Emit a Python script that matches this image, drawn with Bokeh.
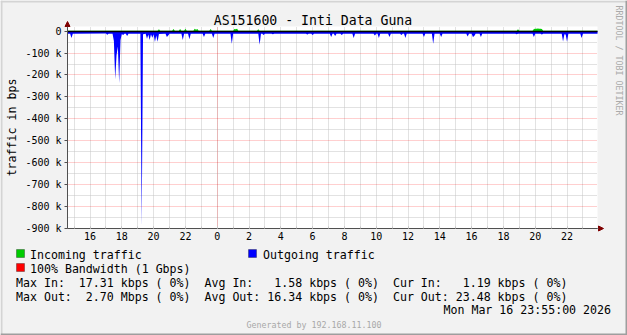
import math
import re
from bokeh.plotting import figure
from bokeh.models import (Range1d, FixedTicker, Grid, Label, Arrow, NormalHead,
                          BoxAnnotation)
from bokeh.embed import file_html
from bokeh.resources import INLINE

FONT = "DejaVu Sans Mono"

# ---------------- data ----------------
title_text = "AS151600 - Inti Data Guna"
y_axis_label = "traffic in bps"
side_text = "RRDTOOL / TOBI OETIKER"
footer_text = "Generated by 192.168.11.100"
date_text = "Mon Mar 16 23:55:00 2026"

x_tick_hours = [16, 18, 20, 22, 24, 26, 28, 30, 32, 34, 36, 38, 40, 42, 44, 46]
x_tick_labels = ["16", "18", "20", "22", "0", "2", "4", "6", "8", "10", "12",
                 "14", "16", "18", "20", "22"]
hour_grid = list(range(15, 48))
day_grid = [24]

y_ticks = [0, -100000, -200000, -300000, -400000, -500000, -600000, -700000,
           -800000, -900000]
y_tick_labels = ["0", "-100 k", "-200 k", "-300 k", "-400 k", "-500 k",
                 "-600 k", "-700 k", "-800 k", "-900 k"]
y_minor_grid = [-50000, -150000, -250000, -350000, -450000, -550000,
                -650000, -750000, -850000]

# outgoing traffic (drawn negative), bps
out_time = [
    "15 14:35", "15 14:45", "15 14:50", "15 14:55",
    "15 17:00", "15 17:05", "15 17:10",
    "15 17:25", "15 17:30", "15 17:35", "15 17:40", "15 17:45", "15 17:50",
    "15 17:55", "15 18:00", "15 18:05", "15 18:10",
    "15 18:15", "15 18:20", "15 18:25",
    "15 19:10", "15 19:15", "15 19:20",
    "15 19:30", "15 19:35", "15 19:40", "15 19:45", "15 19:50", "15 19:55",
    "15 20:00", "15 20:05", "15 20:10", "15 20:15", "15 20:20",
    "15 20:45", "15 20:50", "15 20:55", "15 21:00",
    "15 21:45", "15 21:50", "15 21:55",
    "15 22:10", "15 22:15", "15 22:20",
    "15 23:05", "15 23:10", "15 23:15",
    "15 23:40", "15 23:45", "15 23:50",
    "16 00:50", "16 00:55", "16 01:00",
    "16 02:35", "16 02:40", "16 02:45", "16 02:50", "16 02:55", "16 03:00",
    "16 03:25", "16 03:30", "16 03:35",
    "16 05:35", "16 05:40", "16 05:45", "16 05:55", "16 06:00", "16 06:05",
    "16 07:05", "16 07:10", "16 07:15", "16 07:20", "16 07:25", "16 07:30",
    "16 07:45", "16 07:50", "16 07:55",
    "16 08:30", "16 08:35", "16 08:40",
    "16 09:50", "16 09:55", "16 10:00", "16 10:05", "16 10:10", "16 10:15",
    "16 10:45", "16 10:50", "16 10:55",
    "16 11:30", "16 11:35", "16 11:40", "16 11:45", "16 11:50", "16 11:55",
    "16 12:55", "16 13:00", "16 13:05",
    "16 13:30", "16 13:35", "16 13:40",
    "16 14:00", "16 14:05", "16 14:10",
    "16 15:40", "16 15:45", "16 15:50",
    "16 16:00", "16 16:05", "16 16:10", "16 16:15",
    "16 16:30", "16 16:35", "16 16:40",
    "16 18:45", "16 18:50", "16 18:55",
    "16 19:50", "16 19:55", "16 20:00",
    "16 20:20", "16 20:25", "16 20:30",
    "16 21:40", "16 21:45", "16 21:50", "16 21:55", "16 22:00", "16 22:05",
    "16 22:50", "16 22:55", "16 23:00",
    "16 23:55",
]
out_bps = [
    -12000, -12000, -32000, -12000,
    -11000, -17000, -12000,
    -12000, -45000, -219000, -110000, -70000, -237000,
    -40000, -13000, -18000, -12000,
    -12000, -22000, -12000,
    -12000, -890000, -14000,
    -12000, -35000, -15000, -40000, -14000, -30000,
    -14000, -50000, -20000, -48000, -13000,
    -12000, -27000, -20000, -12000,
    -12000, -41000, -12000,
    -12000, -37000, -12000,
    -12000, -27000, -12000,
    -12000, -32000, -12000,
    -12000, -58000, -12000,
    -12000, -62000, -12000, -12000, -18000, -12000,
    -12000, -14000, -12000,
    -12000, -15000, -12000, -12000, -18000, -12000,
    -12000, -27000, -12000, -12000, -22000, -12000,
    -12000, -18000, -12000,
    -12000, -32000, -12000,
    -12000, -20000, -12000, -12000, -32000, -12000,
    -12000, -27000, -12000,
    -12000, -18000, -12000, -12000, -32000, -12000,
    -12000, -27000, -12000,
    -12000, -58000, -12000,
    -12000, -27000, -12000,
    -12000, -25000, -12000,
    -12000, -27000, -22000, -12000,
    -12000, -27000, -12000,
    -12000, -14000, -12000,
    -12000, -27000, -12000,
    -12000, -15000, -12000,
    -12000, -47000, -14000, -15000, -49000, -12000,
    -12000, -32000, -12000,
    -12000,
]

# incoming traffic, bps
in_time = [
    "15 14:35",
    "15 20:15", "15 20:20", "15 20:25",
    "15 21:10", "15 21:15", "15 21:20",
    "15 21:35", "15 21:40", "15 21:45",
    "15 21:55", "15 22:00", "15 22:05",
    "15 22:30", "15 22:35", "15 22:40", "15 22:45", "15 22:50",
    "15 23:30", "15 23:35", "15 23:40",
    "16 01:00", "16 01:05", "16 01:10", "16 01:15", "16 01:20",
    "16 02:30", "16 02:35", "16 02:40",
    "16 18:50", "16 18:55", "16 19:00",
    "16 19:50", "16 19:55", "16 20:00", "16 20:05", "16 20:10", "16 20:15",
    "16 20:20", "16 20:25", "16 20:30",
    "16 23:55",
]
in_bps = [
    1500,
    1500, 9000, 1500,
    1500, 10000, 1500,
    1500, 10000, 1500,
    1500, 11000, 1500,
    1500, 11000, 6000, 10000, 1500,
    1500, 10000, 1500,
    1500, 10000, 8000, 11000, 1500,
    1500, 8000, 1500,
    1500, 9000, 1500,
    1500, 10000, 11000, 11000, 12000, 11000,
    11000, 10000, 1500,
    1200,
]

legend_rows = [
    "Max In:  17.31 kbps ( 0%)  Avg In:   1.58 kbps ( 0%)  Cur In:   1.19 kbps ( 0%)",
    "Max Out:  2.70 Mbps ( 0%)  Avg Out: 16.34 kbps ( 0%)  Cur Out: 23.48 kbps ( 0%)",
]
series_names = ["Incoming traffic", "Outgoing traffic", "100% Bandwidth (1 Gbps)"]

# ---------------- styling ----------------
GREEN = "#00cc00"
BLUE = "#0000ff"
RED = "#ff0000"
AXIS = "#505050"
ARROW = "#7f0000"
GRID = "#c4c4c4"
BACK = "#f2f2f2"
SHADE_A = "#d4d4d4"
SHADE_B = "#9e9e9e"
LEG = "11.6px"


def to_hours(s):
    d, hm = s.split()
    h, m = hm.split(":")
    return (int(d) - 15) * 24 + int(h) + int(m) / 60.0


def keep_spaces(s):
    # runs of spaces would collapse in SVG text; keep them with no-break spaces
    return re.sub(r" {2,}", lambda m: "\u00a0" * len(m.group()), s)


W, H = 627, 335
CH_L, CH_R, CH_T, CH_B = 67, 597, 26, 228   # graph rectangle on the image

x0, x1 = to_hours("15 14:35"), to_hours("16 23:55")
y0, y1 = -900000, 21000
xpx = (x1 - x0) / (CH_R - CH_L)
ypx = (y1 - y0) / (CH_B - CH_T)

# the frame covers the whole image; the graph sits inside it
p = figure(width=W, height=H, output_backend="svg", toolbar_location=None,
           title=None,
           x_range=Range1d(x0 - CH_L * xpx, x1 + (W - CH_R) * xpx),
           y_range=Range1d(y0 - (H - CH_B) * ypx, y1 + CH_T * ypx),
           min_border=0, min_border_left=0, min_border_right=0,
           min_border_top=0, min_border_bottom=0,
           background_fill_color=BACK, border_fill_color=BACK,
           outline_line_color=None)
p.xgrid.visible = False
p.ygrid.visible = False

p.add_layout(BoxAnnotation(left=x0, right=x1, bottom=y0, top=y1,
                           fill_color="white", fill_alpha=1.0, line_alpha=0,
                           level="underlay"))

p.add_layout(Grid(dimension=0, ticker=FixedTicker(ticks=hour_grid),
                  cross_bounds=(y0, y1), grid_line_color=GRID,
                  grid_line_dash="1 1"))
p.add_layout(Grid(dimension=1, ticker=FixedTicker(ticks=y_minor_grid),
                  cross_bounds=(x0, x1), grid_line_color=GRID,
                  grid_line_dash="1 1"))
p.add_layout(Grid(dimension=1, ticker=FixedTicker(ticks=y_ticks[1:]),
                  cross_bounds=(x0, x1), grid_line_color=RED,
                  grid_line_alpha=0.38, grid_line_dash="1 1"))
p.add_layout(Grid(dimension=0, ticker=FixedTicker(ticks=day_grid),
                  cross_bounds=(y0, y1), grid_line_color=RED,
                  grid_line_alpha=0.38, grid_line_dash="1 1"))

xa = p.xaxis[0]
xa.fixed_location = y0
xa.bounds = (x0, x1)
xa.ticker = FixedTicker(ticks=x_tick_hours, minor_ticks=hour_grid)
xa.major_label_overrides = {t: s for t, s in zip(x_tick_hours, x_tick_labels)}
xa.major_tick_in = 2
xa.major_tick_out = 0
xa.minor_tick_in = 2
xa.minor_tick_out = 0
xa.major_tick_line_color = GRID
xa.minor_tick_line_color = GRID
xa.major_label_standoff = 3

ya = p.yaxis[0]
ya.fixed_location = x0
ya.bounds = (y0, y1)
ya.ticker = FixedTicker(ticks=y_ticks)
ya.major_label_overrides = {t: s for t, s in zip(y_ticks, y_tick_labels)}
ya.major_tick_in = 0
ya.major_tick_out = 3
ya.minor_tick_out = 0
ya.major_tick_line_color = AXIS
ya.major_label_standoff = 3

for ax in (xa, ya):
    ax.axis_line_color = AXIS
    ax.major_label_text_font = FONT
    ax.major_label_text_font_size = "10px"
    ax.major_label_text_color = "black"

in_x = [to_hours(t) for t in in_time]
out_x = [to_hours(t) for t in out_time]
p.varea(x=in_x, y1=0, y2=in_bps, fill_color=GREEN)
p.varea(x=out_x, y1=0, y2=out_bps, fill_color=BLUE)
p.add_layout(Grid(dimension=1, ticker=FixedTicker(ticks=[0]),
                  cross_bounds=(x0, x1), grid_line_color="black",
                  grid_line_width=1.3, level="glyph"))

p.add_layout(Arrow(end=NormalHead(size=5, fill_color=ARROW, line_color=ARROW),
                   x_start=x0, y_start=y1, x_end=x0, y_end=y1 + 5 * ypx,
                   line_color=AXIS, line_width=1))
p.add_layout(Arrow(end=NormalHead(size=5, fill_color=ARROW, line_color=ARROW),
                   x_start=x1, y_start=y0, x_end=x1 + 6 * xpx, y_end=y0,
                   line_color=AXIS, line_width=1))


def put(text, cx, cy, size, align="left", color="black", angle=0.0):
    p.add_layout(Label(x=cx, y=H - cy, x_units="screen", y_units="screen",
                       text=keep_spaces(text), text_font=FONT,
                       text_font_size=size, text_align=align,
                       text_baseline="middle", text_color=color, angle=angle))


def box(cx0, cy0, cx1, cy1, color, line=None):
    kw = dict(line_color=line, line_width=1) if line else dict(line_alpha=0)
    p.add_layout(BoxAnnotation(left=cx0, right=cx1, top=H - cy0,
                               bottom=H - cy1, left_units="screen",
                               right_units="screen", top_units="screen",
                               bottom_units="screen", fill_color=color,
                               fill_alpha=1.0, **kw))


put(title_text, 312.5, 19.5, "13.2px", align="center")
put(y_axis_label, 11, 127, LEG, align="center", angle=math.pi / 2)
put(side_text, 618, 60, "8.3px", align="center", color="#aaaaaa",
    angle=-math.pi / 2)

box(16, 249, 24, 257, GREEN, "black")
put(series_names[0], 29.5, 254, LEG)
box(248, 249, 256, 257, BLUE, "black")
put(series_names[1], 262.5, 254, LEG)
box(16, 263, 24, 271, RED, "black")
put(series_names[2], 29.5, 268, LEG)
put(legend_rows[0], 15.5, 282, LEG)
put(legend_rows[1], 15.5, 296, LEG)
put(date_text, 610.5, 309, LEG, align="right")
put(footer_text, 313.5, 324, "8.3px", align="center", color="#a8a8a8")

# image frame shading
box(0, 0, W, 2, SHADE_A)
box(0, 0, 2, H, SHADE_A)
box(W - 2, 0, W, H, SHADE_B)
box(0, H - 2, W, H, SHADE_B)

open("out.html", "w").write(file_html(p, INLINE))
